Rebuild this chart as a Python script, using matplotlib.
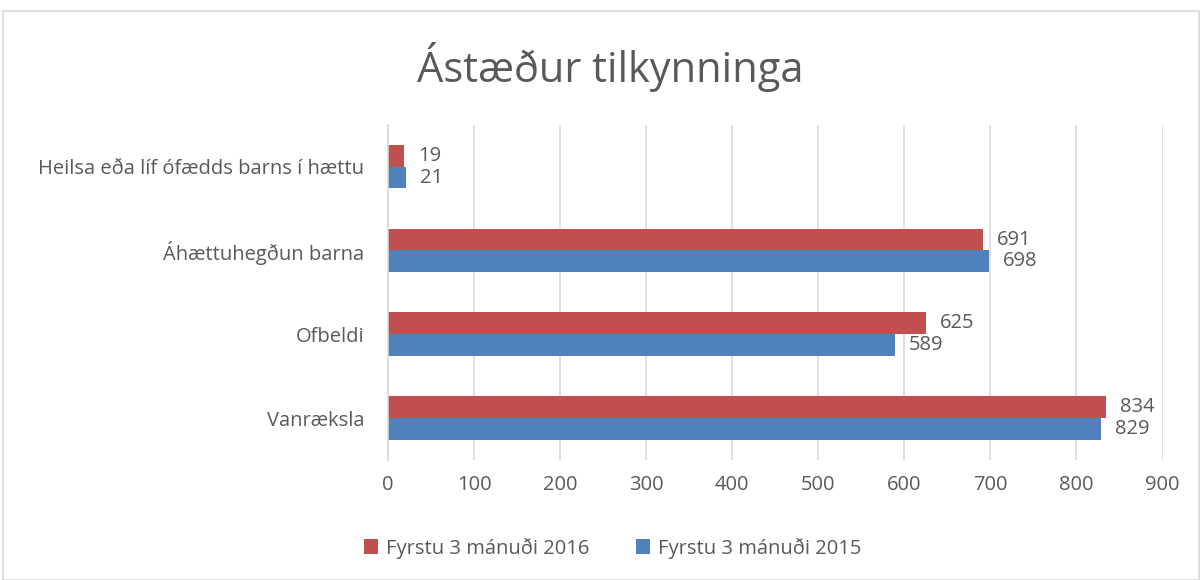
import numpy as np
import matplotlib.pyplot as plt
from matplotlib.patches import Rectangle

categories = ["Vanræksla", "Ofbeldi", "Áhættuhegðun barna", "Heilsa eða líf ófædds barns í hættu"]
values_2016 = [834, 625, 691, 19]
values_2015 = [829, 589, 698, 21]
series_names = ["Fyrstu 3 mánuði 2016", "Fyrstu 3 mánuði 2015"]
xticks = [0, 100, 200, 300, 400, 500, 600, 700, 800, 900]

red = "#C0504D"
blue = "#4F81BD"
text_col = "#595959"
grid_col = "#D9D9D9"
fs = 14.5

plt.rcParams['font.family'] = ['Open Sans', 'DejaVu Sans']

fig = plt.figure(figsize=(12.01, 5.80), dpi=100)
ax = fig.add_axes([0.323, 0.207, 0.645, 0.578])

y = np.arange(len(categories))
h = 0.26

bars16 = ax.barh(y + h / 2, values_2016, height=h, color=red, label=series_names[0])
bars15 = ax.barh(y - h / 2, values_2015, height=h, color=blue, label=series_names[1])

for bars, vals in [(bars16, values_2016), (bars15, values_2015)]:
    for b, v in zip(bars, vals):
        ax.annotate(str(v), (b.get_width(), b.get_y() + b.get_height() / 2),
                    xytext=(10, 0), textcoords="offset points",
                    va="center", ha="left", fontsize=fs, color=text_col)

ax.set_xlim(0, 900)
ax.set_ylim(-0.5, len(categories) - 0.5)
ax.set_xticks(xticks)
ax.set_xticklabels([str(t) for t in xticks])
ax.set_yticks(y)
ax.set_yticklabels(categories)
ax.tick_params(axis="both", length=0, labelsize=fs, labelcolor=text_col)
ax.tick_params(axis="x", pad=11)
ax.tick_params(axis="y", pad=17)
ax.grid(axis="x", color=grid_col, linewidth=1.2)
ax.set_axisbelow(True)
for s in ["top", "right", "bottom"]:
    ax.spines[s].set_visible(False)
ax.spines["left"].set_color(grid_col)
ax.spines["left"].set_linewidth(1.2)

fig.text(0.508, 0.885, "Ástæður tilkynninga", ha="center", va="center",
         fontsize=30, color=text_col)

fig.legend(handles=[bars16, bars15], labels=series_names, loc="center",
           bbox_to_anchor=(0.51, 0.055), ncol=2, frameon=False,
           fontsize=fs, labelcolor=text_col, handlelength=0.7, handleheight=0.7,
           handletextpad=0.4, columnspacing=2.3)

fig.patches.append(Rectangle((0.0025, 0.0), 0.996, 0.981, transform=fig.transFigure,
                             fill=False, edgecolor=grid_col, linewidth=1.2))

fig.savefig("out.png", dpi=100)
